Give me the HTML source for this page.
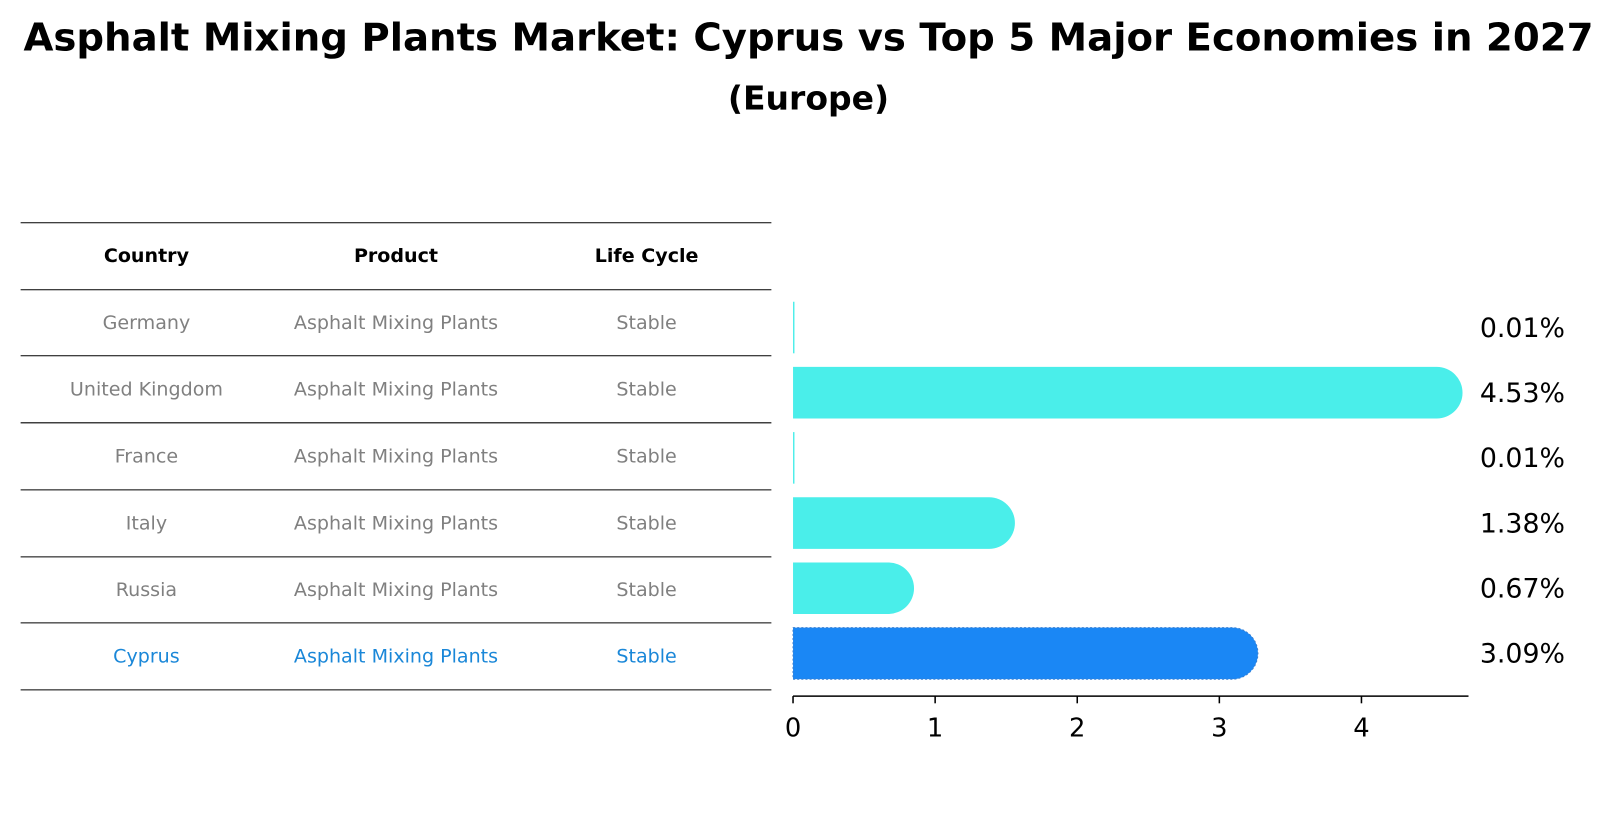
<!DOCTYPE html>
<html><head><meta charset="utf-8"><style>
body{margin:0;background:#fff;font-family:"Liberation Sans","DejaVu Sans",sans-serif}
#c{position:relative;width:1617px;height:823px;overflow:hidden}
</style></head><body>
<div id="c">
<svg id="s" width="1617" height="823" style="font-family:'DejaVu Sans','Liberation Sans',sans-serif">
<g transform="scale(1.03125)">
<text x="784" y="49" text-anchor="middle" font-size="37.5" font-weight="bold">Asphalt Mixing Plants Market: Cyprus vs Top 5 Major Economies in 2027</text>
<text x="784" y="106" text-anchor="middle" font-size="32" font-weight="bold">(Europe)</text>
<g id="tbl"></g>
<g id="bars"></g>
</g>
</svg>
</div>
<script>
const countries=["Germany","United Kingdom","France","Italy","Russia","Cyprus"];
const products=["Asphalt Mixing Plants","Asphalt Mixing Plants","Asphalt Mixing Plants","Asphalt Mixing Plants","Asphalt Mixing Plants","Asphalt Mixing Plants"];
const lifecycle=["Stable","Stable","Stable","Stable","Stable","Stable"];
const values=[0.01,4.53,0.01,1.38,0.67,3.09];
const valueLabels=["0.01%","4.53%","0.01%","1.38%","0.67%","3.09%"];
const ticks=[0,1,2,3,4];
const NS="http://www.w3.org/2000/svg";
function mk(t,a,p){const e=document.createElementNS(NS,t);for(const k in a)e.setAttribute(k,a[k]);p.appendChild(e);return e;}
const tbl=document.getElementById('tbl'),bars=document.getElementById('bars');
const lineYs=[216,281,345,410,475,540,604,669];
lineYs.forEach((y,i)=>{const l=mk('line',{x1:20,x2:748,y1:y,y2:y,stroke:'#000','stroke-width':1},tbl);
});
const colX=[142,384,627],heads=["Country","Product","Life Cycle"];
heads.forEach((h,i)=>{const t=mk('text',{x:colX[i],y:254,'text-anchor':'middle','font-size':18.5,'font-weight':'bold'},tbl);t.textContent=h;
});
countries.forEach((c,r)=>{const y=(lineYs[r+1]+lineYs[r+2])/2+6;const col=r===countries.length-1?'#1a87d8':'#808080';
[c,products[r],lifecycle[r]].forEach((v,i)=>{const t=mk('text',{x:colX[i],y:y,'text-anchor':'middle','font-size':18.5,fill:col},tbl);t.textContent=v;
});});
const x0=769,ppu=137.8;const X=v=>x0+v*ppu;
const bandTop=286,bandStep=63.2,bh=50;
const Y=i=>bandTop+i*bandStep+bandStep/2;
values.forEach((v,i)=>{const cy=Y(i),w=X(v)-x0;const hl=i===values.length-1;
const col=hl?'#1a87f5':'#4aeeea';
const g=mk('g',{},bars);
if(v>0.05){const r=bh/2;
mk('path',{d:`M${x0},${cy-r}H${X(v)}A${r},${r} 0 0 1 ${X(v)},${cy+r}H${x0}Z`,fill:col,stroke:hl?'#3a7fd0':'none','stroke-dasharray':hl?'2,2':'none','stroke-width':1},g);}
else mk('rect',{x:x0,y:cy-bh/2,width:Math.max(w,1.2),height:bh,fill:col},g);
const t=mk('text',{x:1435,y:cy+9,'font-size':26},bars);t.textContent=valueLabels[i];
});
const ax=mk('line',{x1:x0,x2:1424,y1:675,y2:675,stroke:'#000','stroke-width':1.5},bars);

ticks.forEach(v=>{const l=mk('line',{x1:X(v),x2:X(v),y1:675,y2:682,stroke:'#000','stroke-width':1.5},bars);

const t=mk('text',{x:X(v),y:714,'text-anchor':'middle','font-size':25},bars);t.textContent=v;
});
</script>
</body></html>
